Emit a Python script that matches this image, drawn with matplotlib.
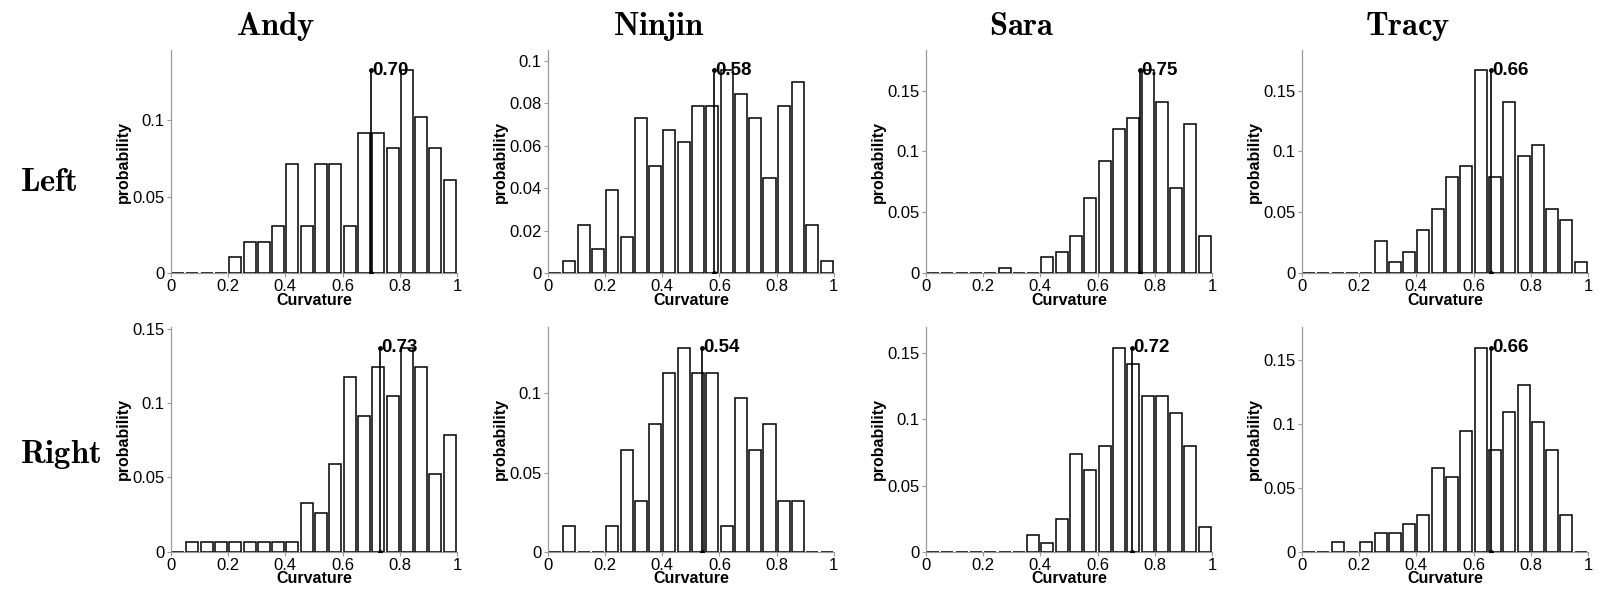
import numpy as np
import matplotlib
matplotlib.use("Agg")
import matplotlib.pyplot as plt
from matplotlib.ticker import MultipleLocator, FuncFormatter

plt.rcParams['font.family'] = ['Liberation Sans', 'DejaVu Sans']
plt.rcParams['mathtext.fontset'] = 'cm'

# Curvature histograms: 20 bins of width 0.05 over [0, 1]
bin_edges = np.linspace(0, 1, 21)

subjects = ["Andy", "Ninjin", "Sara", "Tracy"]
sides = ["Left", "Right"]

andy_left = [0, 0, 0, 0, 0.0102, 0.0204, 0.0204, 0.0306, 0.0714, 0.0306,
             0.0714, 0.0714, 0.0306, 0.0918, 0.0918, 0.0816, 0.1327, 0.1020, 0.0816, 0.0612]
ninjin_left = [0, 0.0056, 0.0225, 0.0112, 0.0393, 0.0169, 0.0730, 0.0506, 0.0674, 0.0618,
               0.0787, 0.0787, 0.0955, 0.0843, 0.0730, 0.0449, 0.0787, 0.0899, 0.0225, 0.0056]
sara_left = [0, 0, 0, 0, 0, 0.0044, 0, 0, 0.0132, 0.0175,
             0.0307, 0.0614, 0.0921, 0.1184, 0.1272, 0.1667, 0.1404, 0.0702, 0.1228, 0.0307]
tracy_left = [0, 0, 0, 0, 0, 0.0263, 0.0088, 0.0175, 0.0351, 0.0526,
              0.0789, 0.0877, 0.1667, 0.0789, 0.1404, 0.0965, 0.1053, 0.0526, 0.0439, 0.0088]
andy_right = [0, 0.0065, 0.0065, 0.0065, 0.0065, 0.0065, 0.0065, 0.0065, 0.0065, 0.0327,
              0.0261, 0.0588, 0.1176, 0.0915, 0.1242, 0.1046, 0.1373, 0.1242, 0.0523, 0.0784]
ninjin_right = [0, 0.0161, 0, 0, 0.0161, 0.0645, 0.0323, 0.0806, 0.1129, 0.1290,
                0.1129, 0.1129, 0.0161, 0.0968, 0.0645, 0.0806, 0.0323, 0.0323, 0, 0]
sara_right = [0, 0, 0, 0, 0, 0, 0, 0.0123, 0.0062, 0.0247,
              0.0741, 0.0617, 0.0802, 0.1543, 0.1420, 0.1173, 0.1173, 0.1049, 0.0802, 0.0185]
tracy_right = [0, 0, 0.0072, 0, 0.0072, 0.0145, 0.0145, 0.0217, 0.0290, 0.0652,
               0.0580, 0.0942, 0.1594, 0.0797, 0.1087, 0.1304, 0.1014, 0.0797, 0.0290, 0]

left_hists = [andy_left, ninjin_left, sara_left, tracy_left]
right_hists = [andy_right, ninjin_right, sara_right, tracy_right]
left_means = [0.70, 0.58, 0.75, 0.66]
right_means = [0.73, 0.54, 0.72, 0.66]

y_steps = [[0.05, 0.02, 0.05, 0.05],
           [0.05, 0.05, 0.05, 0.05]]

fig = plt.figure(figsize=(16.02, 5.97), dpi=100)

col_left = [0.1067, 0.342, 0.578, 0.8127]
ax_w = 0.1785
row_bottom = [0.5427, 0.076]
ax_h = [0.3735, 0.376]

centers = (bin_edges[:-1] + bin_edges[1:]) / 2
gray = "#9a9a9a"


def fmt(v, pos):
    return "%g" % round(v, 4)


for r, (hists, means) in enumerate([(left_hists, left_means), (right_hists, right_means)]):
    for c in range(4):
        ax = fig.add_axes([col_left[c], row_bottom[r], ax_w, ax_h[r]])
        probs = np.asarray(hists[c])
        top = probs.max()
        ax.bar(centers, probs, width=0.042, facecolor="white",
               edgecolor="black", linewidth=1.1, zorder=2)
        m = means[c]
        ax.plot([m, m], [0, top], color="black", linewidth=1.2, zorder=3)
        ax.plot([m, m], [0, top], linestyle="none", marker="o",
                markersize=2.5, color="black", zorder=4)
        ax.text(m + 0.004, top, f"{m:.2f}", fontsize=13.5, fontweight="bold",
                ha="left", va="center", zorder=5)

        ax.set_xlim(0, 1)
        ax.set_ylim(0, top * 1.1)
        ax.xaxis.set_major_locator(MultipleLocator(0.2))
        ax.yaxis.set_major_locator(MultipleLocator(y_steps[r][c]))
        ax.xaxis.set_major_formatter(FuncFormatter(fmt))
        ax.yaxis.set_major_formatter(FuncFormatter(fmt))

        for side in ("top", "right"):
            ax.spines[side].set_visible(False)
        for side in ("left", "bottom"):
            ax.spines[side].set_color(gray)
            ax.spines[side].set_linewidth(0.9)
            ax.spines[side].set_zorder(1)
        ax.tick_params(axis="both", colors=gray, labelcolor="black",
                       length=3, width=0.8, labelsize=12, pad=1.5)

        ax.set_xlabel("Curvature", fontsize=11.5, fontweight="bold", labelpad=-1)
        ax.set_ylabel("probability", fontsize=11.5, fontweight="bold")
        ax.yaxis.set_label_coords(-0.14, 0.5)

# Column titles and row labels
title_x = [0.172, 0.411, 0.638, 0.879]
for name, x in zip(subjects, title_x):
    fig.text(x, 0.955, r"$\mathbf{%s}$" % name, fontsize=23.5,
             ha="center", va="center")

for side, y in zip(sides, [0.695, 0.238]):
    fig.text(0.0125, y, r"$\mathbf{%s}$" % side, fontsize=23.5,
             ha="left", va="center")

fig.savefig("out.png", dpi=100)
